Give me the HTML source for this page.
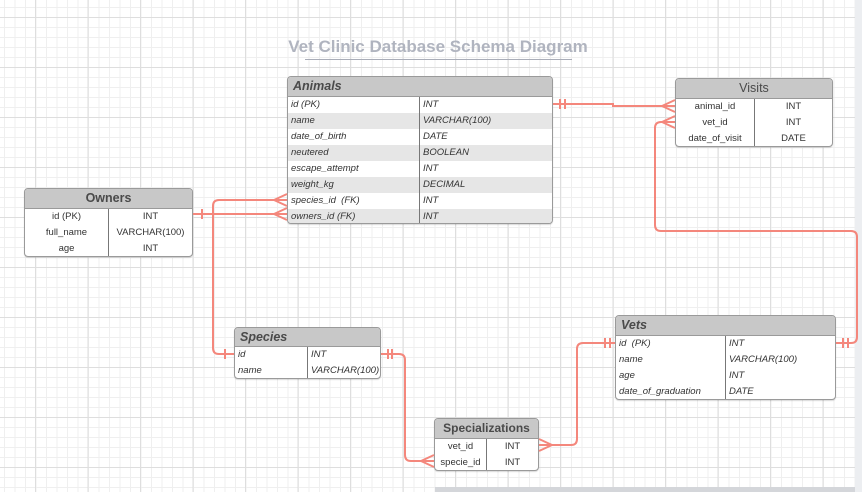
<!DOCTYPE html>
<html><head><meta charset="utf-8"><style>
html,body{margin:0;padding:0;width:862px;height:492px;overflow:hidden;background:#fff}
body{position:relative;font-family:"Liberation Sans",sans-serif}
.grid{position:absolute;left:0;top:0;width:862px;height:492px;
background-image:
linear-gradient(to right,#dedede 1px,transparent 1px),
linear-gradient(to bottom,#dedede 1px,transparent 1px),
linear-gradient(to right,#efefef 1px,transparent 1px),
linear-gradient(to bottom,#efefef 1px,transparent 1px);
background-size:52.5px 50px,52.5px 50px,10.5px 10px,10.5px 10px;
background-position:35px 17px,35px 17px,4px 7px,4px 7px}
.t{position:absolute;box-sizing:border-box;border:1px solid #9a9a9a;border-radius:4px;background:#fff;overflow:hidden;box-shadow:0 1px 1px rgba(0,0,0,.15)}
.h{background:#c8c8c8;border-bottom:1px solid #9a9a9a;font-weight:bold;color:#4a4a4a;font-size:12.5px;box-sizing:border-box}
.r{height:16px;display:flex;font-size:9.5px;color:#333;line-height:16px}
.r div{box-sizing:border-box;padding-left:3px;white-space:nowrap}
.g{background:#e6e6e6}
.it{font-style:italic}
.c div{text-align:center;padding-left:0}
.d{border-right:1px solid #777}
</style></head><body>
<div class="grid"></div>
<div style="position:absolute;left:855px;top:0;width:7px;height:492px;background:#eceef1"></div>
<div style="position:absolute;left:435px;top:487px;width:420px;height:5px;background:#d4d6da"></div>
<div style="position:absolute;left:0;top:37px;width:876px;text-align:center;font-size:17px;font-weight:bold;color:#b0b4bf">Vet Clinic Database Schema Diagram</div>
<div style="position:absolute;left:305px;top:59px;width:267px;height:1px;background:#a9adb8"></div>

<!-- Animals -->
<div class="t it" style="left:287px;top:76px;width:266px;height:148px">
<div class="h" style="height:20px;line-height:19px;padding-left:5px;font-style:italic">Animals</div>
<div class="r"><div class="d" style="width:132px">id (PK)</div><div>INT</div></div>
<div class="r g"><div class="d" style="width:132px">name</div><div>VARCHAR(100)</div></div>
<div class="r"><div class="d" style="width:132px">date_of_birth</div><div>DATE</div></div>
<div class="r g"><div class="d" style="width:132px">neutered</div><div>BOOLEAN</div></div>
<div class="r"><div class="d" style="width:132px">escape_attempt</div><div>INT</div></div>
<div class="r g"><div class="d" style="width:132px">weight_kg</div><div>DECIMAL</div></div>
<div class="r"><div class="d" style="width:132px">species_id &nbsp;(FK)</div><div>INT</div></div>
<div class="r g"><div class="d" style="width:132px">owners_id (FK)</div><div>INT</div></div>
</div>

<!-- Visits -->
<div class="t" style="left:675px;top:78px;width:158px;height:69px">
<div class="h" style="height:20px;line-height:19px;text-align:center;font-weight:normal">Visits</div>
<div class="r c"><div class="d" style="width:79px">animal_id</div><div style="flex:1">INT</div></div>
<div class="r c"><div class="d" style="width:79px">vet_id</div><div style="flex:1">INT</div></div>
<div class="r c"><div class="d" style="width:79px">date_of_visit</div><div style="flex:1">DATE</div></div>
</div>

<!-- Owners -->
<div class="t" style="left:24px;top:188px;width:169px;height:69px">
<div class="h" style="height:20px;line-height:19px;text-align:center">Owners</div>
<div class="r c"><div class="d" style="width:84px">id (PK)</div><div style="flex:1">INT</div></div>
<div class="r c"><div class="d" style="width:84px">full_name</div><div style="flex:1">VARCHAR(100)</div></div>
<div class="r c"><div class="d" style="width:84px">age</div><div style="flex:1">INT</div></div>
</div>

<!-- Species -->
<div class="t it" style="left:234px;top:327px;width:147px;height:52px">
<div class="h" style="height:19px;line-height:18px;padding-left:5px;font-style:italic">Species</div>
<div class="r"><div class="d" style="width:73px">id</div><div>INT</div></div>
<div class="r"><div class="d" style="width:73px">name</div><div>VARCHAR(100)</div></div>
</div>

<!-- Vets -->
<div class="t it" style="left:615px;top:315px;width:221px;height:85px">
<div class="h" style="height:20px;line-height:19px;padding-left:5px;font-style:italic">Vets</div>
<div class="r"><div class="d" style="width:110px">id &nbsp;(PK)</div><div>INT</div></div>
<div class="r"><div class="d" style="width:110px">name</div><div>VARCHAR(100)</div></div>
<div class="r"><div class="d" style="width:110px">age</div><div>INT</div></div>
<div class="r"><div class="d" style="width:110px">date_of_graduation</div><div>DATE</div></div>
</div>

<!-- Specializations -->
<div class="t" style="left:434px;top:418px;width:105px;height:53px">
<div class="h" style="height:20px;line-height:19px;text-align:center;font-size:12px">Specializations</div>
<div class="r c"><div class="d" style="width:52px">vet_id</div><div style="flex:1">INT</div></div>
<div class="r c"><div class="d" style="width:52px">specie_id</div><div style="flex:1">INT</div></div>
</div>

<svg width="862" height="492" style="position:absolute;left:0;top:0" fill="none" stroke="#f4877c" stroke-width="2">
<path d="M553 104 H613 V106 H675"/>
<path d="M560 99v10M565 99v10"/>
<path d="M662 106 L675 100 M662 106 L675 112"/>
<path d="M675 122 H661 Q655 122 655 128 V225 Q655 231 661 231 H851 Q857 231 857 237 V337 Q857 343 851 343 H836"/>
<path d="M662 122 L675 116 M662 122 L675 128"/>
<path d="M843 338v10M848 338v10"/>
<path d="M193 214 H287"/>
<path d="M202 209v10"/>
<path d="M274 214 L287 208 M274 214 L287 220"/>
<path d="M234 354 H219 Q213 354 213 348 V206 Q213 200 219 200 H287"/>
<path d="M274 200 L287 194 M274 200 L287 206"/>
<path d="M225 349v10"/>
<path d="M381 354 H399 Q405 354 405 360 V455 Q405 461 411 461 H434"/>
<path d="M388 349v10M392 349v10"/>
<path d="M421 461 L434 455 M421 461 L434 467"/>
<path d="M539 445 H571 Q577 445 577 439 V349 Q577 343 583 343 H615"/>
<path d="M552 445 L539 439 M552 445 L539 451"/>
<path d="M605 338v10M610 338v10"/>
</svg>
</body></html>
